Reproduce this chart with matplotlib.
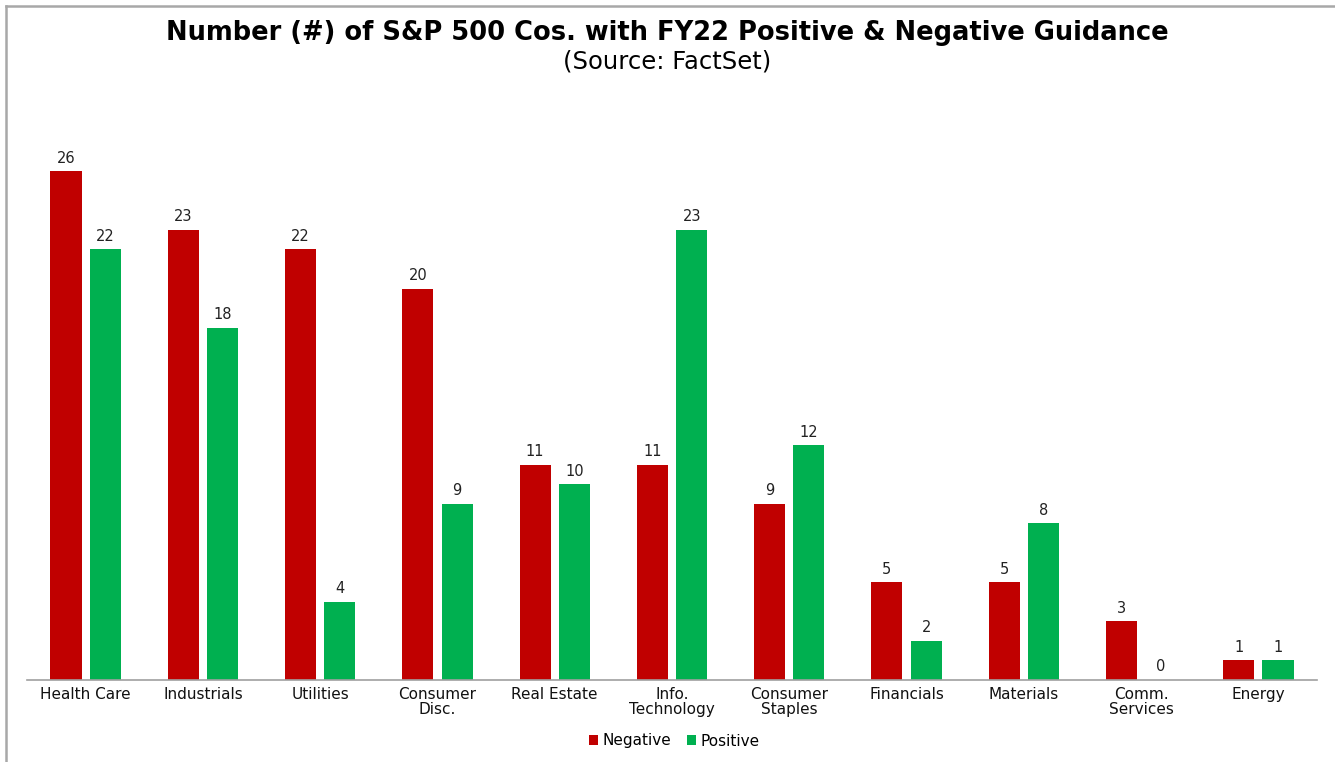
import numpy as np
import matplotlib.pyplot as plt
from matplotlib.lines import Line2D

plt.rcParams['font.family'] = ['DejaVu Sans']

sectors = ['Health Care', 'Industrials', 'Utilities', 'Consumer\nDisc.', 'Real Estate',
           'Info.\nTechnology', 'Consumer\nStaples', 'Financials', 'Materials',
           'Comm.\nServices', 'Energy']
negative = [26, 23, 22, 20, 11, 11, 9, 5, 5, 3, 1]
positive = [22, 18, 4, 9, 10, 23, 12, 2, 8, 0, 1]

red = '#C00000'
green = '#00B050'

fig = plt.figure(figsize=(13.35, 7.62), dpi=100)
ax = fig.add_axes([27/1335, 82/762, 1290/1335, (680-132)/762])

x = np.arange(len(sectors))
w = 0.265
off = 0.1675
b1 = ax.bar(x - off, negative, w, color=red, label='Negative')
b2 = ax.bar(x + off, positive, w, color=green, label='Positive')

for bars, vals in ((b1, negative), (b2, positive)):
    for r, v in zip(bars, vals):
        ax.annotate(str(v), (r.get_x() + r.get_width()/2, v), xytext=(0, 4),
                    textcoords='offset points', ha='center', va='bottom',
                    fontsize=10.5, color='#222222')

ax.set_xlim(-0.5, len(sectors) - 0.5)
ax.set_ylim(0, 28)
ax.set_xticks(x)
ax.set_xticklabels(sectors, fontsize=11, linespacing=1.0, color='#111111')
ax.tick_params(axis='x', length=0, pad=5)
ax.set_yticks([])
for s in ['top', 'right', 'left']:
    ax.spines[s].set_visible(False)
ax.spines['bottom'].set_color('#A0A0A0')
ax.spines['bottom'].set_linewidth(1.2)

fig.text(0.5, 1 - 33/762, 'Number (#) of S&P 500 Cos. with FY22 Positive & Negative Guidance',
         ha='center', va='center', fontsize=18.5, fontweight='bold')
fig.text(0.5, 1 - 62/762, '(Source: FactSet)', ha='center', va='center', fontsize=17.5)

fig.legend(handles=[b1, b2], loc='center', bbox_to_anchor=(0.505, 1 - 741/762), ncol=2,
           frameon=False, fontsize=11, handlelength=0.6, handleheight=0.6,
           handletextpad=0.3, columnspacing=1.0)

# border on top and left only
fig.add_artist(Line2D([6/1335, 1], [1 - 6/762, 1 - 6/762], transform=fig.transFigure,
                      color='#A8A8A8', linewidth=1.8))
fig.add_artist(Line2D([6/1335, 6/1335], [0, 1 - 6/762], transform=fig.transFigure,
                      color='#A8A8A8', linewidth=1.8))

fig.savefig('out.png', dpi=100)
